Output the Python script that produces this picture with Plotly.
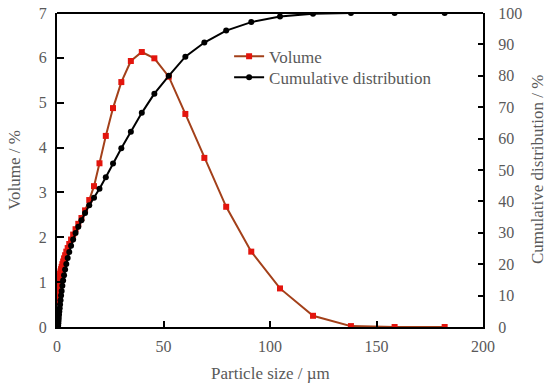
import plotly.graph_objects as go

# Particle size classes (µm)
sizes = [0.479, 0.550, 0.631, 0.724, 0.832, 0.955, 1.096, 1.259, 1.445, 1.660,
         1.905, 2.188, 2.512, 2.884, 3.311, 3.802, 4.365, 5.012, 5.754, 6.607,
         7.586, 8.710, 10.00, 11.48, 13.18, 15.14, 17.38, 19.95, 22.91, 26.30,
         30.20, 34.67, 39.81, 45.71, 52.48, 60.26, 69.18, 79.43, 91.20, 104.7,
         120.2, 138.0, 158.5, 182.0]

# Volume (%)
volume = [0.55, 0.68, 0.79, 0.88, 0.96, 1.03, 1.09, 1.14, 1.19, 1.24,
          1.29, 1.34, 1.40, 1.46, 1.53, 1.60, 1.68, 1.76, 1.85, 1.95,
          2.06, 2.18, 2.30, 2.43, 2.60, 2.83, 3.14, 3.65, 4.26, 4.88,
          5.46, 5.93, 6.13, 5.99, 5.58, 4.75, 3.77, 2.68, 1.68, 0.86,
          0.25, 0.02, 0.00, 0.00]

# Cumulative distribution (%)
cumulative = [0.0, 0.5, 1.2, 2.0, 2.9, 3.9, 4.9, 6.0, 7.2, 8.5,
              10.0, 11.5, 13.1, 14.8, 16.5, 18.3, 20.1, 22.0, 23.9, 25.9,
              27.9, 29.9, 31.9, 34.0, 36.3, 38.8, 41.2, 44.0, 47.7, 52.1,
              56.9, 62.2, 68.2, 74.3, 80.0, 86.1, 90.6, 94.4, 97.1, 98.9,
              99.8, 100.0, 100.0, 100.0]

FONT = "Liberation Serif"
GREY = "#595959"
FS = 16
FT = 17

fig = go.Figure()
fig.add_trace(go.Scatter(
    x=sizes, y=volume, name="Volume", mode="lines+markers",
    line=dict(color="#a3401a", width=2),
    marker=dict(symbol="square", size=6, color="#e3150d"),
    yaxis="y", legend="legend"))
fig.add_trace(go.Scatter(
    x=sizes, y=cumulative, name="Cumulative distribution", mode="lines+markers",
    line=dict(color="#000000", width=2),
    marker=dict(symbol="circle", size=6, color="#000000"),
    yaxis="y2", legend="legend2"))

axis_common = dict(showgrid=False, zeroline=False, showline=True, linecolor="black",
                   linewidth=2, ticks="inside", tickcolor="black", tickwidth=1.5,
                   automargin=False,
                   tickfont=dict(family=FONT, size=FS, color=GREY))

legend_common = dict(xanchor="left", yanchor="top", bgcolor="rgba(0,0,0,0)",
                     font=dict(family=FONT, size=FT, color=GREY))

fig.update_layout(
    width=550, height=384,
    margin=dict(l=57, r=67, t=13, b=57, autoexpand=False),
    paper_bgcolor="white", plot_bgcolor="white",
    font=dict(family=FONT, size=FS, color=GREY),
    xaxis=dict(range=[0, 200], dtick=50, ticklen=6, ticklabelstandoff=4, **axis_common),
    yaxis=dict(range=[0, 7], dtick=1, ticklen=7, ticklabelstandoff=5, **axis_common),
    yaxis2=dict(range=[0, 100], dtick=10, ticklen=5, overlaying="y", side="right",
                ticklabelstandoff=10, **axis_common),
    showlegend=True,
    legend=dict(x=0.404, y=0.918, **legend_common),
    legend2=dict(x=0.404, y=0.851, **legend_common),
    annotations=[
        dict(text="Particle size / µm", xref="paper", yref="paper", x=0.5, y=0,
             yshift=-46, showarrow=False, yanchor="middle",
             font=dict(family=FONT, size=FT, color=GREY)),
        dict(text="Volume / %", xref="paper", yref="paper", x=0, y=0.5,
             xshift=-43, showarrow=False, textangle=-90, xanchor="center",
             font=dict(family=FONT, size=FT, color=GREY)),
        dict(text="Cumulative distribution / %", xref="paper", yref="paper", x=1, y=0.5,
             xshift=54, showarrow=False, textangle=-90, xanchor="center",
             font=dict(family=FONT, size=FT, color=GREY)),
    ],
    shapes=[dict(type="line", xref="paper", yref="paper", x0=0, x1=1, y0=1, y1=1,
                 line=dict(color="black", width=2))],
)

fig.write_html("out.html",
               config={"displayModeBar": False},
               post_script="document.body.style.margin='0';document.body.style.overflow='hidden';")
